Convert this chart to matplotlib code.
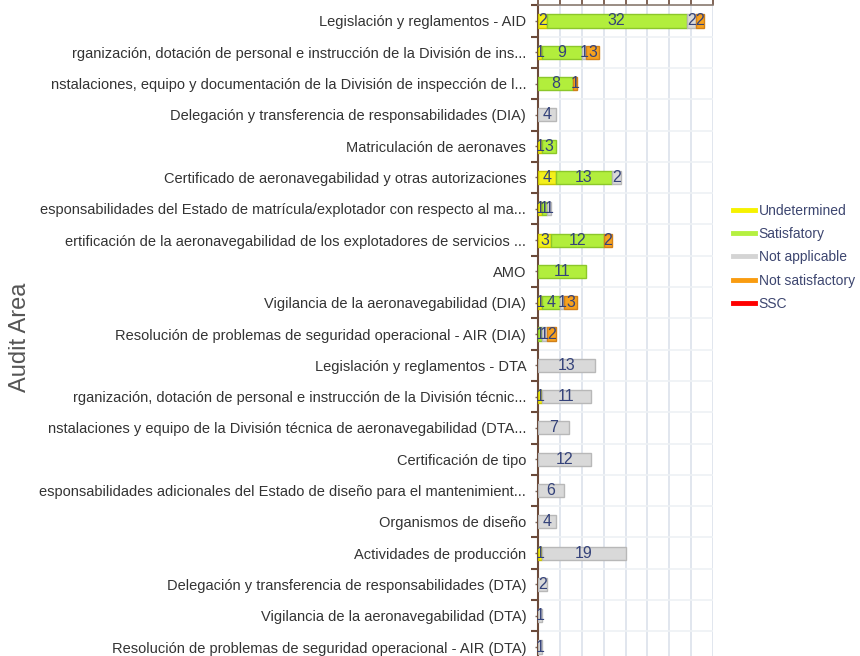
import matplotlib
matplotlib.use("Agg")
import matplotlib.pyplot as plt
from matplotlib.lines import Line2D
import numpy as np

plt.rcParams['font.family'] = ['Liberation Sans', 'DejaVu Sans']

categories = [
    "Legislación y reglamentos - AID",
    "rganización, dotación de personal e instrucción de la División de ins...",
    "nstalaciones, equipo y documentación de la División de inspección de l...",
    "Delegación y transferencia de responsabilidades (DIA)",
    "Matriculación de aeronaves",
    "Certificado de aeronavegabilidad y otras autorizaciones",
    "esponsabilidades del Estado de matrícula/explotador con respecto al ma...",
    "ertificación de la aeronavegabilidad de los explotadores de servicios ...",
    "AMO",
    "Vigilancia de la aeronavegabilidad (DIA)",
    "Resolución de problemas de seguridad operacional - AIR (DIA)",
    "Legislación y reglamentos - DTA",
    "rganización, dotación de personal e instrucción de la División técnic...",
    "nstalaciones y equipo de la División técnica de aeronavegabilidad (DTA...",
    "Certificación de tipo",
    "esponsabilidades adicionales del Estado de diseño para el mantenimient...",
    "Organismos de diseño",
    "Actividades de producción",
    "Delegación y transferencia de responsabilidades (DTA)",
    "Vigilancia de la aeronavegabilidad (DTA)",
    "Resolución de problemas de seguridad operacional - AIR (DTA)",
]

undetermined    = [2, 1, 0, 0, 1, 4, 1, 3, 0, 1, 0, 0, 1, 0, 0, 0, 0, 1, 0, 0, 0]
satisfactory    = [32, 9, 8, 0, 3, 13, 1, 12, 11, 4, 1, 0, 0, 0, 0, 0, 0, 0, 0, 0, 0]
not_applicable  = [2, 1, 0, 4, 0, 2, 1, 0, 0, 1, 1, 13, 11, 7, 12, 6, 4, 19, 2, 1, 1]
not_satisfactory = [2, 3, 1, 0, 0, 0, 0, 2, 0, 3, 2, 0, 0, 0, 0, 0, 0, 0, 0, 0, 0]
ssc             = [0] * len(categories)

series_names = ["Undetermined", "Satisfatory", "Not applicable", "Not satisfactory", "SSC"]
series_values = [undetermined, satisfactory, not_applicable, not_satisfactory, ssc]
fill_colors = ["#f4f01c", "#b2ee3c", "#d9d9d9", "#f7a21e", "#ff1010"]
edge_colors = ["#c9c400", "#8cc72a", "#b8b8b8", "#d0801a", "#c00000"]
legend_colors = ["#f6f200", "#b5f040", "#d4d4d4", "#f99c10", "#ff0000"]

W, H = 860, 656
fig = plt.figure(figsize=(W / 100, H / 100), dpi=100)

# axes rectangle in pixels (bottom edge runs past the canvas)
x0, x1 = 538, 713
y_top, y_bot = 5.3, 662.7
ax = fig.add_axes([x0 / W, 1 - y_bot / H, (x1 - x0) / W, (y_bot - y_top) / H])

n = len(categories)
ypos = np.arange(n)
left = np.zeros(n)
for vals, fc, ec in zip(series_values, fill_colors, edge_colors):
    vals = np.array(vals, dtype=float)
    for i, (v, l) in enumerate(zip(vals, left)):
        if v <= 0:
            continue
        ax.barh(i, v, left=l, height=0.42, color=fc, edgecolor=ec,
                linewidth=1.0, zorder=3)
        ax.text(l + v / 2, i, f"{int(v)}", ha="center", va="center",
                fontsize=11.5, color="#34427a", zorder=4)
    left += vals

ax.set_xlim(0, 40)
ax.set_ylim(n - 0.5, -0.5)

# grid at row boundaries and every 5 units
ax.set_xticks(np.arange(0, 41, 5))
ax.set_yticks(ypos)
ax.set_yticks(np.arange(-0.5, n, 1.0), minor=True)
ax.grid(True, axis="x", which="major", color="#e1e6ee", linewidth=1.4, zorder=0)
ax.grid(True, axis="y", which="minor", color="#eef1f5", linewidth=1.2, zorder=0)
ax.set_axisbelow(True)

ax.xaxis.tick_top()
ax.tick_params(axis="x", which="major", direction="out", length=5,
               color="#6b4a3a", width=1.2, labeltop=False, labelbottom=False)
ax.tick_params(axis="y", which="major", direction="out", length=2.5,
               color="#7a6a60", width=1.0, labelsize=10.5, labelcolor="#333333", pad=6)
ax.tick_params(axis="y", which="minor", direction="out", length=5,
               color="#6b4a3a", width=1.5)
ax.set_yticklabels(categories)

for side in ["right", "bottom"]:
    ax.spines[side].set_visible(False)
ax.spines["left"].set_color("#6b4a3a")
ax.spines["left"].set_linewidth(1.5)
ax.spines["top"].set_color("#8a7a70")
ax.spines["top"].set_linewidth(1.2)

fig.text(20 / W, 1 - 337 / H, "Audit Area", rotation=90, ha="center", va="center",
         fontsize=17, color="#555555")

handles = [Line2D([0], [0], color=c, linewidth=3.5) for c in legend_colors]
fig.legend(handles, series_names, loc="upper left",
           bbox_to_anchor=(733 / W, 1 - 204 / H), frameon=False,
           borderpad=0, borderaxespad=0,
           fontsize=10.0, handlelength=1.6, handletextpad=0.25, labelspacing=0.66,
           labelcolor="#3d4670")

fig.savefig("out.png", dpi=100)
